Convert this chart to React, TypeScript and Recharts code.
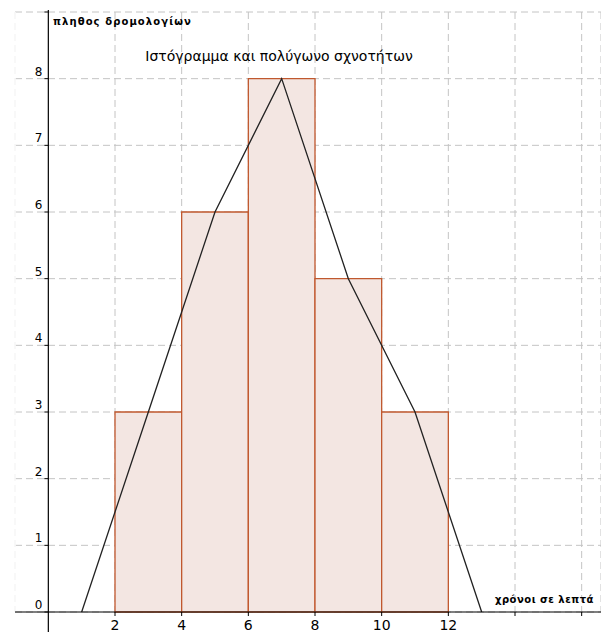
import {
  ComposedChart,
  Line,
  XAxis,
  YAxis,
  CartesianGrid,
  ReferenceArea,
  ReferenceLine,
} from 'recharts';

// histogram classes (minutes) and frequencies
const classStarts = [2, 4, 6, 8, 10];
const classEnds = [4, 6, 8, 10, 12];
const frequencies = [3, 6, 8, 5, 3];

// frequency polygon (class midpoints plus the empty classes at both ends)
const polygonX = [1, 3, 5, 7, 9, 11, 13];
const polygonY = [0, 3, 6, 8, 5, 3, 0];

const xTicks = [2, 4, 6, 8, 10, 12, 14, 16];
const xTickLabels = ['2', '4', '6', '8', '10', '12', '', ''];
const yTicks = [0, 1, 2, 3, 4, 5, 6, 7, 8, 9];
const yTickLabels = ['0', '1', '2', '3', '4', '5', '6', '7', '8', ''];

const polygonData = polygonX.map((x, i) => ({ x, y: polygonY[i] }));

const FONT = '"DejaVu Sans", sans-serif';

function YTickLabel(props: { viewBox?: { x: number; y: number }; text: string }) {
  const { viewBox, text } = props;
  if (!viewBox || !text) return null;
  return (
    <text
      x={viewBox.x - 2}
      y={viewBox.y - 3}
      textAnchor="end"
      fontSize={12}
      fontFamily={FONT}
      fill="#000"
    >
      {text}
    </text>
  );
}

export default function App() {
  return (
    <div style={{ position: 'absolute', left: 0, top: 0, width: 601, height: 632, background: '#fff' }}>
      <ComposedChart
        width={601}
        height={632}
        data={polygonData}
        margin={{ top: 12, right: 0, bottom: 0, left: 15 }}
      >
        <CartesianGrid stroke="#c4c4c4" strokeDasharray="7 4" />
        <XAxis
          type="number"
          dataKey="x"
          domain={[-1, 16.58]}
          allowDataOverflow
          ticks={xTicks}
          interval={0}
          tickFormatter={(v: number) => xTickLabels[xTicks.indexOf(v)] ?? ''}
          tick={{ fontSize: 14, fill: '#000', fontFamily: FONT }}
          tickSize={4}
          tickMargin={4}
          tickLine={{ stroke: '#000' }}
          axisLine={{ stroke: '#000' }}
          height={20}
        />
        <YAxis type="number" domain={[0, 9]} ticks={yTicks} interval={0} hide allowDataOverflow />
        {/* mask the grid line on the left border of the plot */}
        <ReferenceLine x={-1} stroke="#fff" strokeWidth={1.5} />
        {classStarts.map((s, i) => (
          <ReferenceArea
            key={s}
            x1={s}
            x2={classEnds[i]}
            y1={0}
            y2={frequencies[i]}
            fill="#f3e6e2"
            fillOpacity={1}
            stroke="#c0582e"
            strokeWidth={1.3}
            ifOverflow="visible"
          />
        ))}
        <ReferenceLine
          segment={[{ x: 0, y: 9.03 }, { x: 0, y: -0.3 }]}
          stroke="#000"
          strokeWidth={1.2}
          ifOverflow="visible"
        />
        {yTicks.map((v, i) => (
          <ReferenceLine
            key={v}
            segment={[{ x: -0.12, y: v }, { x: 0, y: v }]}
            stroke="#000"
            ifOverflow="visible"
            label={<YTickLabel text={yTickLabels[i]} />}
          />
        ))}
        <Line
          type="linear"
          dataKey="y"
          stroke="#222"
          strokeWidth={1.3}
          dot={false}
          isAnimationActive={false}
        />
      </ComposedChart>
      <div
        style={{
          position: 'absolute',
          left: 0,
          width: 558,
          top: 48,
          textAlign: 'center',
          fontFamily: FONT,
          fontSize: 14,
          color: '#000',
          whiteSpace: 'nowrap',
        }}
      >
        Ιστόγραμμα και πολύγωνο σχνοτήτων
      </div>
      <div
        style={{
          position: 'absolute',
          left: 53,
          top: 16,
          fontFamily: FONT,
          fontSize: 10,
          fontWeight: 'bold',
          letterSpacing: 1.1,
          color: '#000',
          whiteSpace: 'nowrap',
        }}
      >
        πληθος δρομολογίων
      </div>
      <div
        style={{
          position: 'absolute',
          left: 495,
          top: 594,
          fontFamily: FONT,
          fontSize: 10,
          fontWeight: 'bold',
          letterSpacing: 0.5,
          color: '#000',
          whiteSpace: 'nowrap',
        }}
      >
        χρόνοι σε λεπτά
      </div>
    </div>
  );
}
